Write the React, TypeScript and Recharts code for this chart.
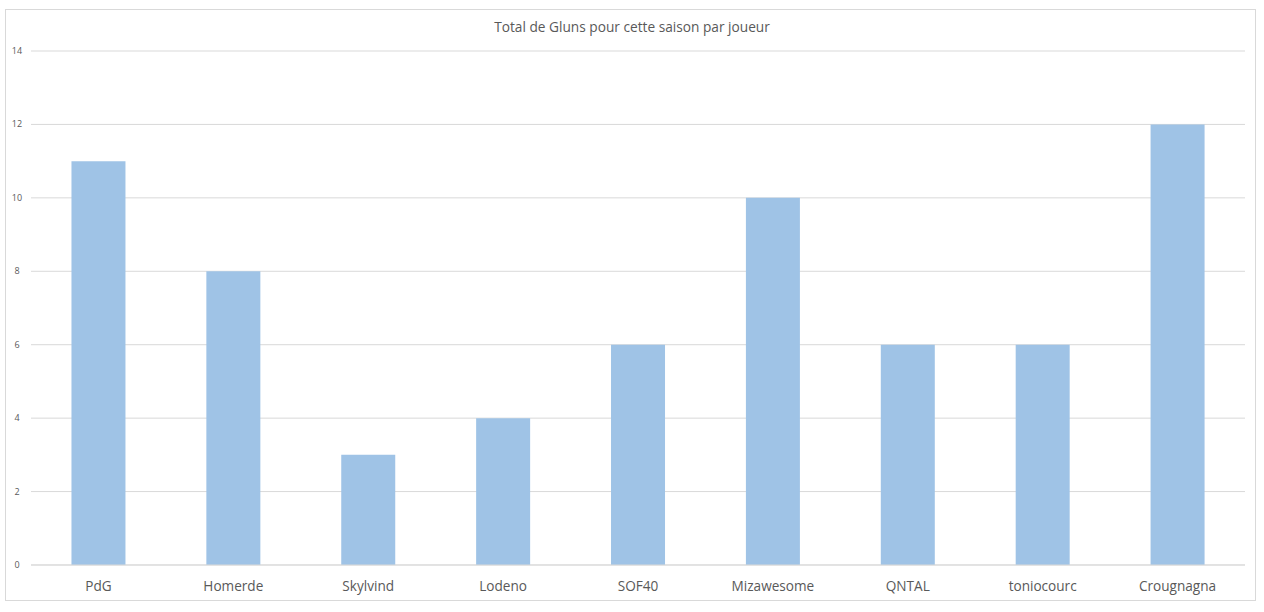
import React from "react";
import { BarChart, Bar, XAxis, YAxis, CartesianGrid } from "recharts";

const players = ["PdG", "Homerde", "Skylvind", "Lodeno", "SOF40", "Mizawesome", "QNTAL", "toniocourc", "Crougnagna"];
const gluns = [11, 8, 3, 4, 6, 10, 6, 6, 12];
const yTicks = [0, 2, 4, 6, 8, 10, 12, 14];
const title = "Total de Gluns pour cette saison par joueur";

const data = players.map((p, i) => ({ name: p, value: gluns[i] }));

const FONT = "'Open Sans', 'Noto Sans', sans-serif";

const YTick = (props: any) => {
  const { y, payload } = props;
  return (
    <text x={17} y={y} dy={3} textAnchor="middle" fontSize={9} fill="#595959" fontFamily={FONT}>
      {payload.value}
    </text>
  );
};

export default function App() {
  return (
    <div style={{ position: "absolute", left: 0, top: 0, width: 1264, height: 612, background: "#fff" }}>
      <div
        style={{
          position: "absolute",
          left: 5,
          top: 9,
          width: 1251,
          height: 592,
          border: "1px solid #d9d9d9",
          boxSizing: "border-box",
        }}
      />
      <div
        style={{
          position: "absolute",
          left: 0,
          top: 17,
          width: 1264,
          textAlign: "center",
          fontFamily: FONT,
          fontSize: 13.7,
          color: "#595959",
          lineHeight: "20px",
        }}
      >
        {title}
      </div>
      <div style={{ position: "absolute", left: 0, top: 0 }}>
        <BarChart width={1264} height={612} data={data} margin={{ top: 51, right: 19, bottom: 17, left: 0 }} barCategoryGap="30%">
          <CartesianGrid vertical={false} stroke="#d9d9d9" strokeDasharray="" />
          <YAxis
            width={31}
            domain={[0, 14]}
            ticks={yTicks}
            axisLine={false}
            tickLine={false}
            tick={<YTick />}
            interval={0}
          />
          <XAxis
            dataKey="name"
            height={30}
            axisLine={{ stroke: "#d9d9d9" }}
            tickLine={false}
            tick={{ fontSize: 13.6, fill: "#595959", fontFamily: FONT }}
            tickMargin={10}
            interval={0}
          />
          <Bar dataKey="value" fill="#9fc3e6" isAnimationActive={false} />
        </BarChart>
      </div>
    </div>
  );
}
